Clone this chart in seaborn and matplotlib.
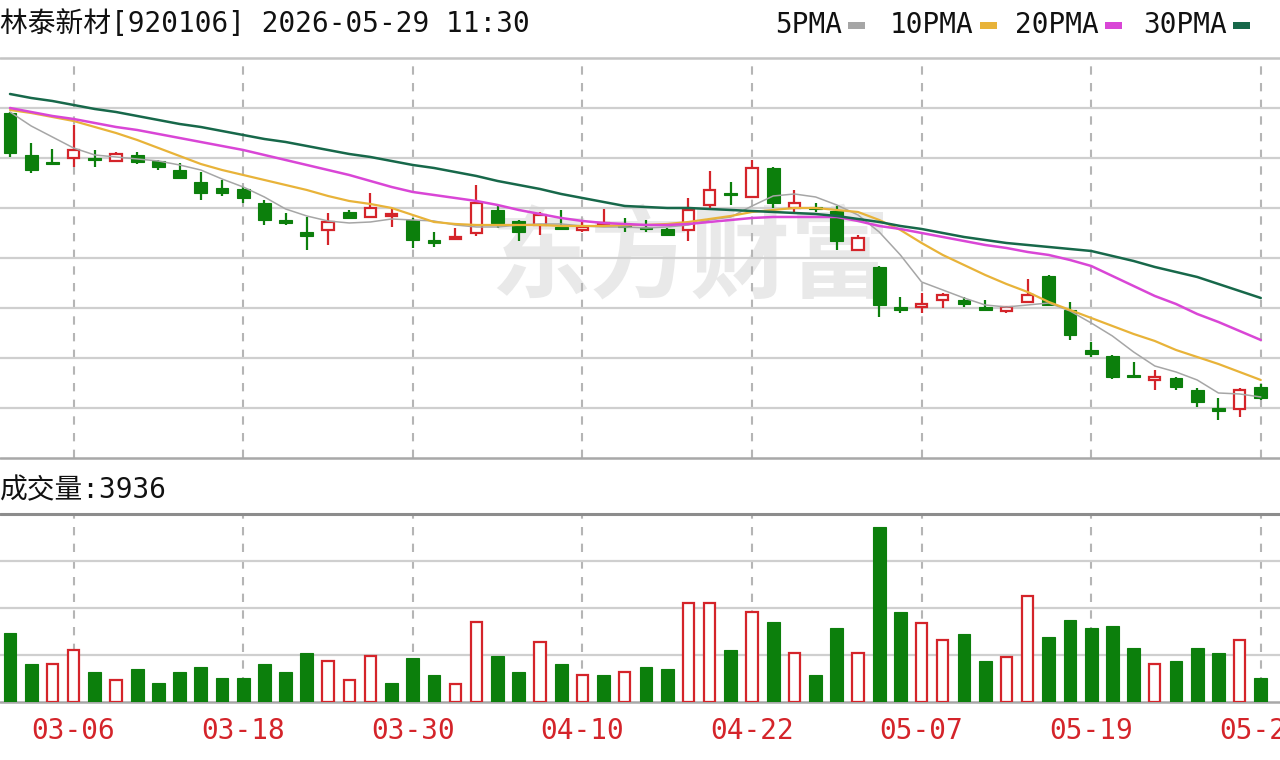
import numpy as np
import pandas as pd
import matplotlib
matplotlib.use("Agg")
import matplotlib.pyplot as plt
import matplotlib.patches as mpatches
import seaborn as sns

# ---- data (price panel has no axis, values are estimates) ----
stock_title = "林泰新材[920106] 2026-05-29 11:30"
holidays = ["2026-04-06", "2026-05-01", "2026-05-04", "2026-05-05"]

opens = [74.5, 70.3, 69.6, 70.0, 70.0, 69.7, 70.3, 69.7, 68.8, 67.6,
         67.0, 66.9, 65.5, 63.8, 62.6, 62.8, 64.6, 64.1, 64.2, 63.8,
         61.8, 61.9, 62.5, 64.8, 63.7, 63.3, 63.1, 62.8, 63.3, 63.3,
         63.1, 62.9, 62.8, 65.3, 66.5, 66.1, 69.0, 65.0, 65.1, 64.7,
         60.8, 59.1, 55.1, 55.1, 55.8, 55.8, 55.1, 54.7, 55.6, 58.2,
         54.8, 50.8, 50.2, 48.3, 47.8, 48.0, 46.8, 45.0, 44.9, 47.1]
highs = [74.6, 71.5, 70.9, 73.3, 70.8, 70.6, 70.6, 69.8, 69.5, 68.6,
         67.8, 67.1, 65.8, 64.5, 64.1, 64.5, 64.8, 66.5, 65.0, 64.0,
         62.6, 63.0, 67.3, 65.3, 63.8, 64.6, 64.8, 63.6, 64.9, 64.0,
         63.8, 63.0, 66.0, 68.7, 67.6, 69.8, 69.1, 66.8, 65.5, 65.2,
         62.3, 59.2, 56.1, 56.5, 56.5, 56.1, 55.8, 55.1, 57.9, 58.3,
         55.6, 51.6, 50.3, 49.6, 48.8, 48.1, 47.0, 46.0, 47.0, 47.4]
lows = [70.1, 68.5, 69.3, 69.1, 69.1, 69.6, 69.4, 68.8, 67.9, 65.8,
        66.2, 65.5, 63.3, 63.3, 60.8, 61.3, 63.9, 64.0, 63.1, 61.0,
        61.1, 61.8, 62.2, 63.0, 61.7, 62.3, 62.8, 62.6, 63.2, 62.6,
        62.6, 62.2, 61.7, 64.9, 65.3, 66.0, 65.0, 64.5, 64.6, 60.8,
        60.7, 54.1, 54.5, 54.5, 55.0, 55.1, 54.7, 54.5, 55.5, 55.2,
        51.8, 50.1, 47.9, 48.0, 46.8, 46.8, 45.1, 43.8, 44.1, 45.8]
closes = [70.5, 68.8, 69.4, 70.8, 69.8, 70.4, 69.6, 69.1, 68.0, 66.5,
          66.5, 66.0, 63.8, 63.5, 62.2, 63.6, 64.0, 65.0, 64.4, 61.8,
          61.5, 62.1, 65.5, 63.5, 62.6, 64.3, 62.9, 63.1, 63.5, 63.1,
          62.9, 62.3, 64.8, 66.8, 66.3, 69.0, 65.5, 65.5, 64.9, 61.7,
          62.0, 55.3, 54.8, 55.4, 56.3, 55.4, 54.8, 55.1, 56.3, 55.3,
          52.3, 50.4, 48.1, 48.1, 48.1, 47.1, 45.6, 44.7, 46.8, 46.0]

ma5 = [74.6, 73.2, 72.1, 71.0, 70.3, 70.1, 69.9, 69.7, 69.3, 68.8,
       67.9, 67.1, 66.1, 64.9, 64.2, 63.7, 63.5, 63.6, 63.9, 63.8,
       63.7, 63.3, 63.1, 63.1, 63.3, 63.4, 63.4, 63.2, 63.1, 63.1,
       63.0, 63.1, 63.3, 63.8, 64.1, 65.2, 66.2, 66.4, 66.1, 65.3,
       64.3, 62.6, 60.3, 57.6, 56.8, 56.0, 55.3, 55.1, 55.3, 55.5,
       54.7, 53.5, 52.2, 50.6, 49.2, 48.6, 47.8, 46.5, 46.4, 46.1]
ma10 = [74.8, 74.5, 74.1, 73.7, 73.1, 72.5, 71.8, 71.0, 70.2, 69.4,
        68.8, 68.3, 67.8, 67.3, 66.8, 66.2, 65.7, 65.4, 65.0, 64.3,
        63.6, 63.4, 63.3, 63.3, 63.3, 63.3, 63.2, 63.2, 63.2, 63.3,
        63.3, 63.4, 63.6, 63.9, 64.2, 64.6, 64.8, 65.0, 65.0, 64.8,
        64.6, 63.8, 62.8, 61.5, 60.3, 59.3, 58.3, 57.4, 56.6, 55.6,
        54.8, 54.0, 53.2, 52.4, 51.7, 50.8, 50.1, 49.4, 48.6, 47.8]
ma20 = [75.0, 74.6, 74.2, 73.9, 73.5, 73.1, 72.8, 72.4, 72.0, 71.6,
        71.2, 70.8, 70.3, 69.8, 69.3, 68.8, 68.3, 67.7, 67.1, 66.6,
        66.3, 66.0, 65.7, 65.3, 64.8, 64.4, 64.0, 63.7, 63.5, 63.4,
        63.3, 63.3, 63.4, 63.6, 63.8, 64.0, 64.1, 64.1, 64.1, 64.1,
        63.7, 63.2, 62.9, 62.5, 62.1, 61.7, 61.3, 61.0, 60.6, 60.3,
        59.8, 59.2, 58.2, 57.2, 56.2, 55.4, 54.4, 53.6, 52.7, 51.8]
ma30 = [76.4, 76.0, 75.7, 75.3, 74.9, 74.6, 74.2, 73.8, 73.4, 73.1,
        72.7, 72.3, 71.9, 71.6, 71.2, 70.8, 70.4, 70.1, 69.7, 69.3,
        69.0, 68.6, 68.2, 67.7, 67.3, 66.9, 66.4, 66.0, 65.6, 65.2,
        65.1, 65.0, 65.0, 64.9, 64.8, 64.7, 64.6, 64.5, 64.4, 64.2,
        63.9, 63.6, 63.2, 62.9, 62.5, 62.1, 61.8, 61.5, 61.3, 61.1,
        60.9, 60.7, 60.2, 59.7, 59.1, 58.6, 58.1, 57.4, 56.7, 56.0]

volumes = [11300, 6230, 6230, 8530, 4920, 3610, 5410, 3120, 4920, 5740,
           3940, 3940, 6230, 4920, 8040, 6720, 3610, 7540, 3120, 7220,
           4430, 2950, 13100, 7540, 4920, 9840, 6230, 4430, 4430, 4920,
           5740, 5410, 16240, 16240, 8530, 14760, 13100, 8040, 4430, 12140,
           8040, 28700, 14760, 12960, 10170, 11150, 6720, 7380, 17380, 10660,
           13450, 12140, 12460, 8860, 6230, 6720, 8860, 8040, 10170, 3936]
# 1 = red (up) volume bar, 0 = green
vol_up = [0, 0, 1, 1, 0, 1, 0, 0, 0, 0,
          0, 0, 0, 0, 0, 1, 1, 1, 0, 0,
          0, 1, 1, 0, 0, 1, 0, 1, 0, 1,
          0, 0, 1, 1, 0, 1, 0, 1, 0, 0,
          1, 0, 0, 1, 1, 0, 0, 1, 1, 0,
          0, 0, 0, 0, 1, 0, 0, 0, 1, 0]

tick_labels = ["03-06", "03-18", "03-30", "04-10", "04-22", "05-07", "05-19", "05-29"]
ma_names = ["5PMA", "10PMA", "20PMA", "30PMA"]
ma_colors = ["#a6a6a6", "#e8b339", "#d946d6", "#17684a"]

# ---- build frame ----
days = pd.bdate_range("2026-03-03", "2026-05-29")
days = days[~days.isin(pd.to_datetime(holidays))]
df = pd.DataFrame({"open": opens, "high": highs, "low": lows, "close": closes,
                   "ma5": ma5, "ma10": ma10, "ma20": ma20, "ma30": ma30,
                   "vol": volumes, "vol_up": vol_up}, index=days)
df["x"] = np.arange(len(df))
labels_all = df.index.strftime("%m-%d")
tick_pos = [int(df["x"][labels_all == t].iloc[0]) for t in tick_labels]

RED = "#d4242a"
GREEN = "#0c7f0c"
GRID = "#cfcfcf"
VGRID = "#b5b5b5"
FS = 20

sns.set_theme(style="white")
plt.rcParams["font.family"] = ["DejaVu Sans Mono", "Noto Sans CJK SC"]
plt.rcParams["axes.unicode_minus"] = False

fig = plt.figure(figsize=(12.8, 7.6), dpi=100)
fig.patch.set_facecolor("white")
ax = fig.add_axes([0, 0.3974, 1, 0.5263])
axv = fig.add_axes([0, 0.0763, 1, 0.2474])

xlim = (-10 / 21.2, 1270 / 21.2)
for a in (ax, axv):
    a.set_xlim(*xlim)
    for s in a.spines.values():
        s.set_visible(False)
    a.set_yticks([])
    a.set_facecolor("white")
    for p in tick_pos:
        a.axvline(p, color=VGRID, lw=1.5, ls=(0, (4, 4)), zorder=1)

# ---- price panel ----
ax.set_ylim(40, 80)
for lvl in np.arange(45, 80, 5):
    ax.axhline(lvl, color=GRID, lw=1.6, zorder=1)
ax.axhline(80, color="#c4c4c4", lw=1.8, zorder=1, clip_on=False)
ax.axhline(40, color="#a8a8a8", lw=1.8, zorder=1, clip_on=False)
ax.set_xticks([])

ax.text(0.539, 0.495, "东方财富", transform=ax.transAxes, fontsize=72,
        color="#e9e9e9", fontweight="bold", ha="center", va="center",
        family="Noto Sans CJK SC", zorder=0.5)

up = (df["close"] >= df["open"]).values
x = df["x"].values
body_lo = np.minimum(df["open"], df["close"]).values
body_h = np.maximum(np.abs(df["close"] - df["open"]).values, 0.12)
ax.vlines(x, df["low"], df["high"], colors=np.where(up, RED, GREEN), lw=1.6, zorder=2)
ax.bar(x[~up], body_h[~up], bottom=body_lo[~up], width=0.6,
       color=GREEN, edgecolor=GREEN, lw=0.8, zorder=3)
ax.bar(x[up], body_h[up], bottom=body_lo[up], width=0.52,
       facecolor="white", edgecolor=RED, lw=1.6, zorder=3)

for col, c, lw in zip(["ma5", "ma10", "ma20", "ma30"], ma_colors, [1.1, 1.6, 1.8, 1.8]):
    sns.lineplot(data=df, x="x", y=col, ax=ax, color=c, lw=lw, zorder=4)
ax.set_xlabel("")
ax.set_ylabel("")

# ---- volume panel ----
vmax = 30800
axv.set_ylim(0, vmax)
for lvl in [vmax / 4, vmax / 2, vmax * 3 / 4]:
    axv.axhline(lvl, color=GRID, lw=1.6, zorder=1)
axv.axhline(vmax, color="#8c8c8c", lw=2.2, zorder=1, clip_on=False)
axv.axhline(0, color="#a8a8a8", lw=1.8, zorder=1, clip_on=False)
vu = df["vol_up"].values == 1
axv.bar(x[~vu], df["vol"].values[~vu], width=0.6, color=GREEN, edgecolor=GREEN, lw=0.8, zorder=3)
axv.bar(x[vu], df["vol"].values[vu], width=0.52, facecolor="white", edgecolor=RED, lw=1.6, zorder=3)
axv.set_xticks(tick_pos, tick_labels)
axv.tick_params(axis="x", length=0, pad=11, labelcolor=RED, labelsize=FS)

# ---- header texts ----
fig.text(0.0, 1 - 24 / 760, stock_title, fontsize=FS, ha="left", va="center", color="#111111")
fig.text(0.0, 1 - 490 / 760, f"成交量:{volumes[-1]}", fontsize=FS, ha="left",
         va="center", color="#111111")

legend_x = [775, 890, 1015, 1143]
for name, c, lx in zip(ma_names, ma_colors, legend_x):
    fig.text(lx / 1280, 1 - 25 / 760, name, fontsize=FS, ha="left", va="center",
             color="#111111")
    sw_x = lx + len(name) * 16.7 + 6
    fig.patches.append(mpatches.Rectangle((sw_x / 1280, 1 - 29 / 760), 17 / 1280, 7 / 760,
                                          transform=fig.transFigure, color=c, lw=0))

fig.savefig("out.png", dpi=100, facecolor="white")
